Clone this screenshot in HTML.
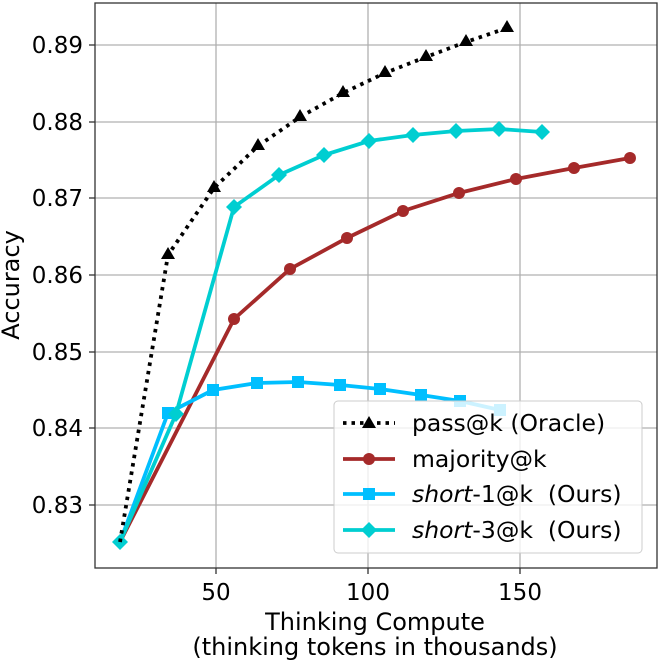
<!DOCTYPE html>
<html><head><meta charset="utf-8"><style>body{margin:0;background:#fff}svg{display:block}text{white-space:pre}</style></head><body>
<svg width="658" height="661" xmlns="http://www.w3.org/2000/svg" font-family="'DejaVu Sans','Liberation Sans',sans-serif">
<g stroke="#b0b0b0" stroke-width="1.3">
<line x1="216" y1="3" x2="216" y2="568"/><line x1="368" y1="3" x2="368" y2="568"/><line x1="520" y1="3" x2="520" y2="568"/>
<line x1="95" y1="45" x2="657" y2="45"/><line x1="95" y1="122" x2="657" y2="122"/><line x1="95" y1="198" x2="657" y2="198"/><line x1="95" y1="275" x2="657" y2="275"/><line x1="95" y1="352" x2="657" y2="352"/><line x1="95" y1="428" x2="657" y2="428"/><line x1="95" y1="505" x2="657" y2="505"/>
</g>
<rect x="95" y="3" width="562" height="565" fill="none" stroke="#333" stroke-width="1.3"/>
<g stroke="#333" stroke-width="1.3">
<line x1="89" y1="45" x2="95" y2="45"/><line x1="89" y1="122" x2="95" y2="122"/><line x1="89" y1="198" x2="95" y2="198"/><line x1="89" y1="275" x2="95" y2="275"/><line x1="89" y1="352" x2="95" y2="352"/><line x1="89" y1="428" x2="95" y2="428"/><line x1="89" y1="505" x2="95" y2="505"/>
<line x1="216" y1="568" x2="216" y2="574"/><line x1="368" y1="568" x2="368" y2="574"/><line x1="520" y1="568" x2="520" y2="574"/>
</g>
<g font-size="23" text-anchor="end" fill="#000">
<text x="83" y="53">0.89</text><text x="83" y="130">0.88</text><text x="83" y="206">0.87</text><text x="83" y="283">0.86</text><text x="83" y="360">0.85</text><text x="83" y="436">0.84</text><text x="83" y="513">0.83</text>
</g>
<g font-size="23" text-anchor="middle">
<text x="216" y="600">50</text><text x="368" y="600">100</text><text x="520" y="600">150</text>
</g>
<g font-size="24" text-anchor="middle">
<text x="375" y="630">Thinking Compute</text><text x="375" y="655">(thinking tokens in thousands)</text>
<text transform="translate(19,285) rotate(-90)">Accuracy</text>
</g>
<!-- majority -->
<polyline fill="none" stroke="#a52a2a" stroke-width="3.8" points="120,542 234,319 290,269 347,238 403,211 459,193 516,179 574,168 630,158"/>
<g fill="#a52a2a"><circle cx="234" cy="319" r="6"/><circle cx="290" cy="269" r="6"/><circle cx="347" cy="238" r="6"/><circle cx="403" cy="211" r="6"/><circle cx="459" cy="193" r="6"/><circle cx="516" cy="179" r="6"/><circle cx="574" cy="168" r="6"/><circle cx="630" cy="158" r="6"/></g>
<!-- short-1 -->
<polyline fill="none" stroke="#00bfff" stroke-width="3.8" points="120,542 168,413 213,390 257,383 298,382 340,385 380,389 421,395 460,401 500,410"/>
<g fill="#00bfff"><rect x="162" y="407" width="12" height="12"/><rect x="207" y="384" width="12" height="12"/><rect x="251" y="377" width="12" height="12"/><rect x="292" y="376" width="12" height="12"/><rect x="334" y="379" width="12" height="12"/><rect x="374" y="383" width="12" height="12"/><rect x="415" y="389" width="12" height="12"/><rect x="454" y="395" width="12" height="12"/><rect x="494" y="404" width="12" height="12"/></g>
<!-- short-3 -->
<polyline fill="none" stroke="#00ced1" stroke-width="3.8" points="120,542 176,414 234,207 279,175 324,155 369,141 413,135 456,131 499,129 542,132"/>
<g fill="#00ced1">
<path d="M120,534l8,8l-8,8l-8,-8z"/><path d="M176,406l8,8l-8,8l-8,-8z"/><path d="M234,199l8,8l-8,8l-8,-8z"/><path d="M279,167l8,8l-8,8l-8,-8z"/><path d="M324,147l8,8l-8,8l-8,-8z"/><path d="M369,133l8,8l-8,8l-8,-8z"/><path d="M413,127l8,8l-8,8l-8,-8z"/><path d="M456,123l8,8l-8,8l-8,-8z"/><path d="M499,121l8,8l-8,8l-8,-8z"/><path d="M542,124l8,8l-8,8l-8,-8z"/></g>
<!-- pass -->
<polyline fill="none" stroke="#000" stroke-width="3.8" stroke-dasharray="3.5,5" points="120,542 168,255 214,188 258,146 300,117 343,93 385,73 426,57 466,42 507,28"/>
<g fill="#000"><path d="M168,247l7,12h-14z"/><path d="M214,180l7,12h-14z"/><path d="M258,138l7,12h-14z"/><path d="M300,109l7,12h-14z"/><path d="M343,85l7,12h-14z"/><path d="M385,65l7,12h-14z"/><path d="M426,49l7,12h-14z"/><path d="M466,34l7,12h-14z"/><path d="M507,20l7,12h-14z"/></g>
<!-- legend -->
<rect x="334" y="401" width="308" height="152" rx="4" fill="#fff" fill-opacity="0.8" stroke="#ccc" stroke-width="1"/>
<line x1="343" y1="423" x2="395" y2="423" stroke="#000" stroke-width="3.8" stroke-dasharray="3.5,5"/><path d="M369,416l7,12h-14z"/>
<line x1="343" y1="459" x2="395" y2="459" stroke="#a52a2a" stroke-width="3.8"/><circle cx="369" cy="459" r="6" fill="#a52a2a"/>
<line x1="343" y1="494" x2="395" y2="494" stroke="#00bfff" stroke-width="3.8"/><rect x="363" y="488" width="12" height="12" fill="#00bfff"/>
<line x1="343" y1="530" x2="395" y2="530" stroke="#00ced1" stroke-width="3.8"/><path d="M369,522l8,8l-8,8l-8,-8z" fill="#00ced1"/>
<g font-size="23.5"><text x="412" y="431">pass@k (Oracle)</text><text x="412" y="467">majority@k</text>
<text x="412" y="502" xml:space="preserve"><tspan font-style="italic">short</tspan>-1@k  (Ours)</text>
<text x="412" y="538" xml:space="preserve"><tspan font-style="italic">short</tspan>-3@k  (Ours)</text></g>
</svg>
</body></html>
